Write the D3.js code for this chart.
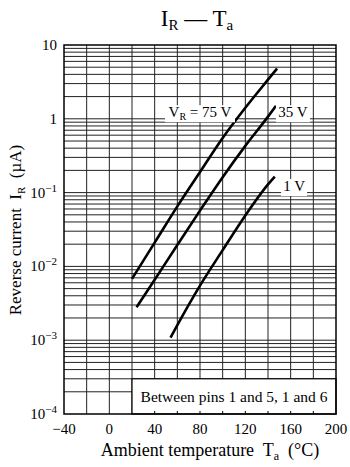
<!DOCTYPE html>
<html>
<head>
<meta charset="utf-8">
<script src="https://cdn.jsdelivr.net/npm/d3@7"></script>
<style>
  body { margin: 0; background: #fff; }
  svg { font-family: "Liberation Serif", "Times New Roman", serif; }
  text { white-space: pre; }
</style>
</head>
<body>
<div id="chart"></div>
<script>
// temperature (°C) / reverse current (µA)
const tempTicks = [-40, 0, 40, 80, 120, 160, 200];
const decadeTicks = [-4, -3, -2, -1, 0, 1];

const tempVr75 = [20, 40, 60, 80, 100, 120, 140, 148];
const irVr75 = [0.0068, 0.021, 0.065, 0.19, 0.55, 1.41, 3.39, 4.8];

const tempVr35 = [24, 40, 60, 80, 100, 120, 140, 147];
const irVr35 = [0.0028, 0.0066, 0.0195, 0.057, 0.162, 0.43, 1.07, 1.5];

const tempVr1 = [54, 60, 80, 100, 120, 140, 146];
const irVr1 = [0.00108, 0.0016, 0.0055, 0.0166, 0.049, 0.129, 0.165];

const width = 350;
const height = 467;
const margin = { top: 45, right: 14, bottom: 53, left: 64 };
const plotW = width - margin.left - margin.right;
const plotH = height - margin.top - margin.bottom;

const x = d3.scaleLinear().domain([-40, 200]).range([0, plotW]);
const y = d3.scaleLog().domain([1e-4, 10]).range([plotH, 0]);

const svg = d3.select('#chart')
  .append('svg')
  .attr('width', width)
  .attr('height', height);

const g = svg.append('g')
  .attr('transform', `translate(${margin.left},${margin.top})`);

// grid: verticals every 20 °C, horizontals at 1..9 of every decade
const vLines = d3.range(-20, 200, 20);
g.selectAll('.vgrid')
  .data(vLines).enter()
  .append('line')
  .attr('x1', d => x(d))
  .attr('x2', d => x(d))
  .attr('y1', 0)
  .attr('y2', plotH)
  .attr('stroke', '#222')
  .attr('stroke-width', 1);

const hLines = [];
decadeTicks.slice(0, -1).forEach(e => {
  for (let m = 1; m <= 9; m++) hLines.push(m * Math.pow(10, e));
});
g.selectAll('.hgrid')
  .data(hLines.filter(d => d > 1e-4)).enter()
  .append('line')
  .attr('x1', 0)
  .attr('x2', plotW)
  .attr('y1', d => y(d))
  .attr('y2', d => y(d))
  .attr('stroke', '#222')
  .attr('stroke-width', 1);

// note box hides the grid at bottom right
const boxTop = y(3e-4);
g.append('rect')
  .attr('x', x(20))
  .attr('y', boxTop)
  .attr('width', x(200) - x(20))
  .attr('height', plotH - boxTop)
  .attr('fill', '#fff')
  .attr('stroke', '#000')
  .attr('stroke-width', 1.2);

g.selectAll('.btick')
  .data(d3.range(40, 200, 20)).enter()
  .append('line')
  .attr('x1', d => x(d))
  .attr('x2', d => x(d))
  .attr('y1', plotH)
  .attr('y2', plotH - 3)
  .attr('stroke', '#000');

g.append('text')
  .attr('x', (x(20) + x(200)) / 2)
  .attr('y', boxTop + 23)
  .attr('text-anchor', 'middle')
  .attr('font-size', 15.5)
  .text('Between pins 1 and 5, 1 and 6');

// curves
const line = d3.line()
  .x(d => x(d[0]))
  .y(d => y(d[1]))
  .curve(d3.curveMonotoneX);

const curves = [
  d3.zip(tempVr75, irVr75),
  d3.zip(tempVr35, irVr35),
  d3.zip(tempVr1, irVr1)
];

g.selectAll('.curve')
  .data(curves).enter()
  .append('path')
  .attr('fill', 'none')
  .attr('stroke', '#000')
  .attr('stroke-width', 2.6)
  .attr('d', line);

// curve labels with white backing
function label(cx, cy, w, build) {
  g.append('rect')
    .attr('x', cx - w / 2)
    .attr('y', cy - 12)
    .attr('width', w)
    .attr('height', 17)
    .attr('fill', '#fff');
  const t = g.append('text')
    .attr('x', cx)
    .attr('y', cy)
    .attr('text-anchor', 'middle')
    .attr('font-size', 15);
  build(t);
}

label(x(80), y(1.05), 70, t => {
  t.append('tspan').text('V');
  t.append('tspan').attr('font-size', 10).attr('dy', 3).text('R');
  t.append('tspan').attr('dy', -3).text(' = 75 V');
});
label(x(162), y(1.05), 34, t => t.text('35 V'));
label(x(163), y(0.105), 26, t => t.text('1 V'));

// frame
g.append('rect')
  .attr('width', plotW)
  .attr('height', plotH)
  .attr('fill', 'none')
  .attr('stroke', '#000')
  .attr('stroke-width', 1.5);

// axes labels
g.selectAll('.xtick')
  .data(tempTicks).enter()
  .append('text')
  .attr('x', d => x(d))
  .attr('y', plotH + 20)
  .attr('text-anchor', 'middle')
  .attr('font-size', 15)
  .text(d => d < 0 ? '\u2212' + Math.abs(d) : d);

const yt = g.selectAll('.ytick')
  .data(decadeTicks).enter()
  .append('text')
  .attr('x', -7)
  .attr('y', d => y(Math.pow(10, d)) + 5)
  .attr('text-anchor', 'end')
  .attr('font-size', 15);
yt.each(function (d) {
  const t = d3.select(this);
  if (d === 0) t.text('1');
  else if (d === 1) t.text('10');
  else {
    t.append('tspan').text('10');
    t.append('tspan').attr('font-size', 11).attr('dy', -6).text('\u2212' + Math.abs(d));
  }
});

const xt = svg.append('text')
  .attr('x', 210)
  .attr('y', 456)
  .attr('text-anchor', 'middle')
  .attr('font-size', 18);
xt.append('tspan').text('Ambient temperature  T');
xt.append('tspan').attr('font-size', 12).attr('dy', 4).text('a');
xt.append('tspan').attr('dy', -4).text('  (\u00B0C)');

const ytl = svg.append('text')
  .attr('transform', `translate(21,230) rotate(-90)`)
  .attr('text-anchor', 'middle')
  .attr('font-size', 17);
ytl.append('tspan').text('Reverse current  I');
ytl.append('tspan').attr('font-size', 11).attr('dy', 4).text('R');
ytl.append('tspan').attr('dy', -4).text('  (\u00B5A)');

// title
const title = svg.append('text')
  .attr('x', 197)
  .attr('y', 26)
  .attr('text-anchor', 'middle')
  .attr('font-size', 23);
title.append('tspan').text('I');
title.append('tspan').attr('font-size', 15).attr('dy', 4).text('R');
title.append('tspan').attr('dy', -4).text(' \u2014 T');
title.append('tspan').attr('font-size', 15).attr('dy', 4).text('a');
</script>
</body>
</html>
